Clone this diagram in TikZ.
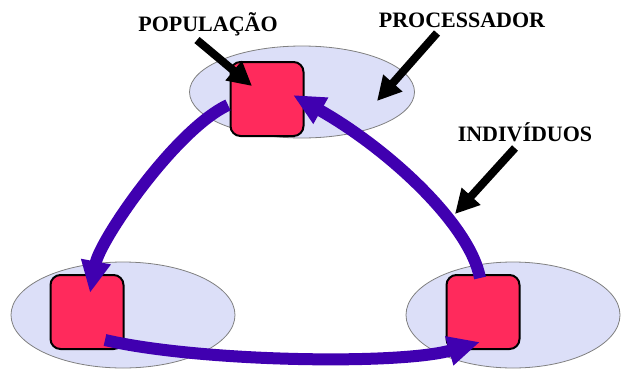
\documentclass[tikz,border=0pt]{standalone}
\usepackage{fontspec}
\setmainfont{Liberation Serif}
\usetikzlibrary{arrows.meta,shapes.geometric}
\definecolor{procfill}{RGB}{220,223,248}
\definecolor{procline}{RGB}{128,128,128}
\definecolor{indfill}{RGB}{255,42,92}
\definecolor{flowcol}{RGB}{64,0,176}
\tikzset{
  proc/.style={ellipse, draw=procline, fill=procfill, line width=0.8pt, inner sep=0pt},
  indiv/.style={draw=black, fill=indfill, line width=2pt, rounded corners=10pt, minimum width=73pt, minimum height=74pt, inner sep=0pt},
  flow/.style={draw=flowcol, line width=12pt, -{Triangle[length=32pt,width=28pt]}},
  pointer/.style={draw=black, line width=8pt, -{Triangle[length=24pt,width=24pt]}},
  lbl/.style={font=\bfseries\fontsize{22}{26}\selectfont, inner sep=0pt}
}
\begin{document}
\begin{tikzpicture}[x=1pt,y=-1pt]
\useasboundingbox (0,0) rectangle (621,370);
% processors
\node[proc, minimum width=225pt, minimum height=92pt] (procT) at (302,92) {};
\node[proc, minimum width=224pt, minimum height=106pt] (procL) at (123,315) {};
\node[proc, minimum width=214pt, minimum height=106pt] (procR) at (513,315) {};
% populations
\node[indiv] (popT) at (267,99) {};
\node[indiv] (popL) at (87,312) {};
\node[indiv] (popR) at (483,312) {};
% migration arrows
\coordinate (s1) at (228,105);
\coordinate (e1) at (90,293);
\coordinate (s2) at (105,340);
\coordinate (e2) at (480,342);
\coordinate (s3) at (480,278);
\coordinate (e3) at (293,95);
\draw[flow] (s1) .. controls (175,130) and (100,240) .. (e1);
\draw[flow] (s2) .. controls (200,362) and (400,365) .. (e2);
\draw[flow] (s3) .. controls (470,225) and (390,150) .. (e3);
% labels
\node[lbl] (lpop) at (208,24) {POPULAÇÃO};
\node[lbl] (lproc) at (462,20) {PROCESSADOR};
\node[lbl] (lind) at (525,132) {INDIVÍDUOS};
\coordinate (t1) at (197,40);
\coordinate (h1) at (252,86);
\coordinate (t2) at (437,33);
\coordinate (h2) at (377,101);
\coordinate (t3) at (515,148);
\coordinate (h3) at (455,214);
\draw[pointer] (t1) -- (h1);
\draw[pointer] (t2) -- (h2);
\draw[pointer] (t3) -- (h3);
\end{tikzpicture}
\end{document}
